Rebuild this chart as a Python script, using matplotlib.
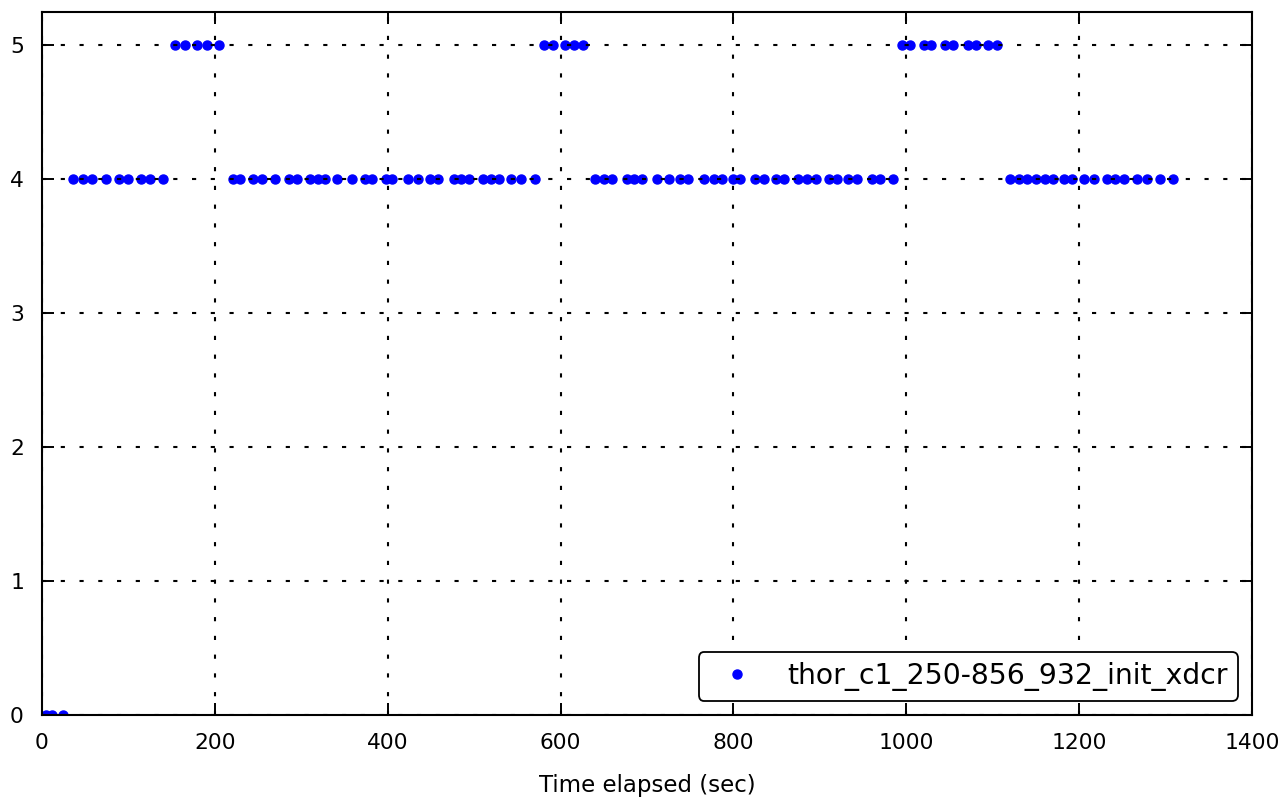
import matplotlib
matplotlib.use("Agg")
import matplotlib.pyplot as plt
import numpy as np

# ---- data ----
t_zero = [5, 11, 24]
v_zero = [0, 0, 0]

t_a4 = [36, 48, 58, 74, 89, 100, 114, 125, 140]
t_a5 = [154, 165, 179, 191, 205]
t_b4 = [221, 229, 244, 254, 270, 286, 295, 310, 319, 328, 341, 359, 374, 382,
        398, 405, 423, 435, 449, 458, 477, 485, 494, 510, 519, 529, 543, 554, 570]
t_b5 = [581, 591, 605, 615, 626]
t_c4 = [640, 650, 659, 677, 685, 694, 711, 726, 738, 748, 766, 777, 787, 800,
        808, 825, 835, 849, 859, 875, 885, 895, 910, 920, 933, 943, 960, 970, 985]
t_c5 = [995, 1004, 1020, 1029, 1045, 1054, 1071, 1081, 1095, 1105]
t_d4 = [1120, 1130, 1140, 1150, 1160, 1170, 1182, 1192, 1206, 1217, 1232, 1242,
        1252, 1267, 1279, 1293, 1309]

series_label = "thor_c1_250-856_932_init_xdcr"
x_label = "Time elapsed (sec)"
x_ticks = [0, 200, 400, 600, 800, 1000, 1200, 1400]
y_ticks = [0, 1, 2, 3, 4, 5]

times = (t_zero + t_a4 + t_a5 + t_b4 + t_b5 + t_c4 + t_c5 + t_d4)
values = (v_zero + [4] * len(t_a4) + [5] * len(t_a5) + [4] * len(t_b4)
          + [5] * len(t_b5) + [4] * len(t_c4) + [5] * len(t_c5) + [4] * len(t_d4))

plt.rcParams['font.family'] = ['DejaVu Sans']

fig = plt.figure(figsize=(12.82, 7.98), dpi=100)
ax = fig.add_axes([42 / 1282, 1 - 715 / 798, (1252 - 42) / 1282, (715 - 12) / 798])

ax.plot(times, values, linestyle='none', marker='o', markersize=6.5,
        color='#0000ff', markeredgecolor='#0000ff', label=series_label, zorder=2)

ax.set_xlim(0, 1400)
ax.set_ylim(0, 5.25)
ax.set_xticks(x_ticks)
ax.set_yticks(y_ticks)

ax.set_axisbelow(False)
ax.grid(True, color='black', linewidth=1.5, linestyle=(0, (2, 7)))

ax.tick_params(axis='both', which='major', direction='in', length=8.5, width=1.4,
               top=True, right=True, labelsize=15.7, pad=13)
for sp in ax.spines.values():
    sp.set_linewidth(1.5)

ax.set_xlabel(x_label, fontsize=16.5, labelpad=15)

leg = ax.legend(loc='lower right', numpoints=1, fontsize=20.3, fancybox=True,
                framealpha=1, edgecolor='black', borderpad=0.35,
                handletextpad=0.8, borderaxespad=0.5)
leg.get_frame().set_linewidth(1.3)

fig.savefig("out.png", dpi=100)
